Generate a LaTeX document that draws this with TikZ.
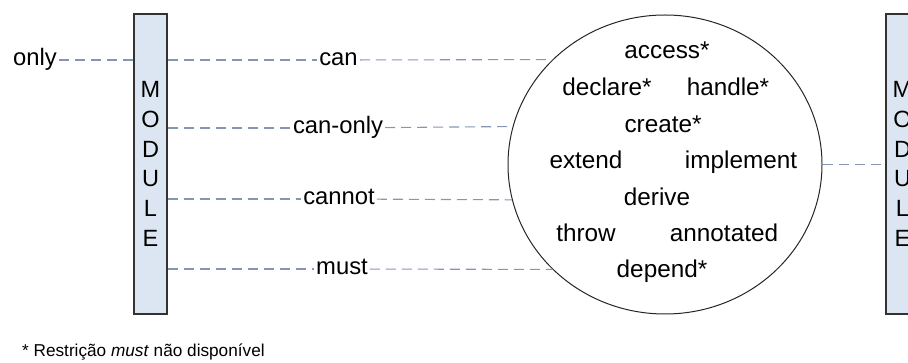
\documentclass[tikz,border=0pt]{standalone}
\usepackage{fontspec}
\setmainfont{Liberation Sans}
\usepackage{tikz}
\usetikzlibrary{shapes.geometric}
\definecolor{boxblue}{HTML}{DCE6F2}
\definecolor{lineblue}{HTML}{8596B2}

\begin{document}
\begin{tikzpicture}[x=1pt,y=-1pt,
            module node/.style={rectangle,draw=black!80,fill=boxblue,line width=1.2pt,minimum width=33pt,minimum height=300pt,align=center,inner sep=0pt,font=\fontsize{23.5}{29.8}\selectfont},
            rel node/.style={font=\fontsize{23.8}{28}\selectfont,text height=12pt,text depth=0pt,inner sep=2pt},
            verb node/.style={font=\fontsize{24.3}{28}\selectfont,text height=12pt,text depth=0pt,inner sep=0pt},
            dash line/.style={draw=lineblue,line width=1.1pt,dash pattern=on 10pt off 6pt},
            ]
            \useasboundingbox (0,0) rectangle (908,363);

            \node[module node] (lmod) at (150.5,164) {M\\O\\D\\U\\L\\E};
            \node[module node] (rmod) at (902.5,164) {M\\O\\D\\U\\L\\E};

            \node[draw=black!85,line width=1pt,ellipse,minimum width=314pt,minimum height=299pt,inner sep=0pt] (verbs) at (665,164.5) {};

            \node[verb node] (access) at (667,53) {access*};
            \node[verb node] (declare) at (607,90) {declare*};
            \node[verb node] (handle) at (728,90) {handle*};
            \node[verb node] (create) at (663,127) {create*};
            \node[verb node] (extend) at (586,163) {extend};
            \node[verb node] (implement) at (741,163) {implement};
            \node[verb node] (derive) at (657,200) {derive};
            \node[verb node] (throw) at (586,236) {throw};
            \node[verb node] (annotated) at (724,236) {annotated};
            \node[verb node] (depend) at (662,272) {depend*};

            \node[rel node] (only) at (35,60) {only};
            \node[rel node] (can) at (338.5,60) {can};
            \node[rel node] (canonly) at (338,128) {can-only};
            \node[rel node] (cannot) at (339,199) {cannot};
            \node[rel node] (must) at (342,269) {must};

            \draw[dash line] (only) -- (only -| lmod.west);
            \draw[dash line] (can -| lmod.east) -- (can);
            \draw[dash line] (can) -- (verbs.137.4);
            \draw[dash line] (canonly -| lmod.east) -- (canonly);
            \draw[dash line] (canonly) -- (verbs.166.6);
            \draw[dash line] (cannot -| lmod.east) -- (cannot);
            \draw[dash line] (cannot) -- (verbs.193.1);
            \draw[dash line] (must -| lmod.east) -- (must);
            \draw[dash line] (must) -- (verbs.223.3);
            \draw[dash line] (verbs.east) -- (verbs.east -| rmod.west);

            \node[anchor=base west,inner sep=0pt,font=\fontsize{17.2}{20}\selectfont] (note) at (22,357) {* Restrição \textit{must} não disponível};
        \end{tikzpicture}
\end{document}
